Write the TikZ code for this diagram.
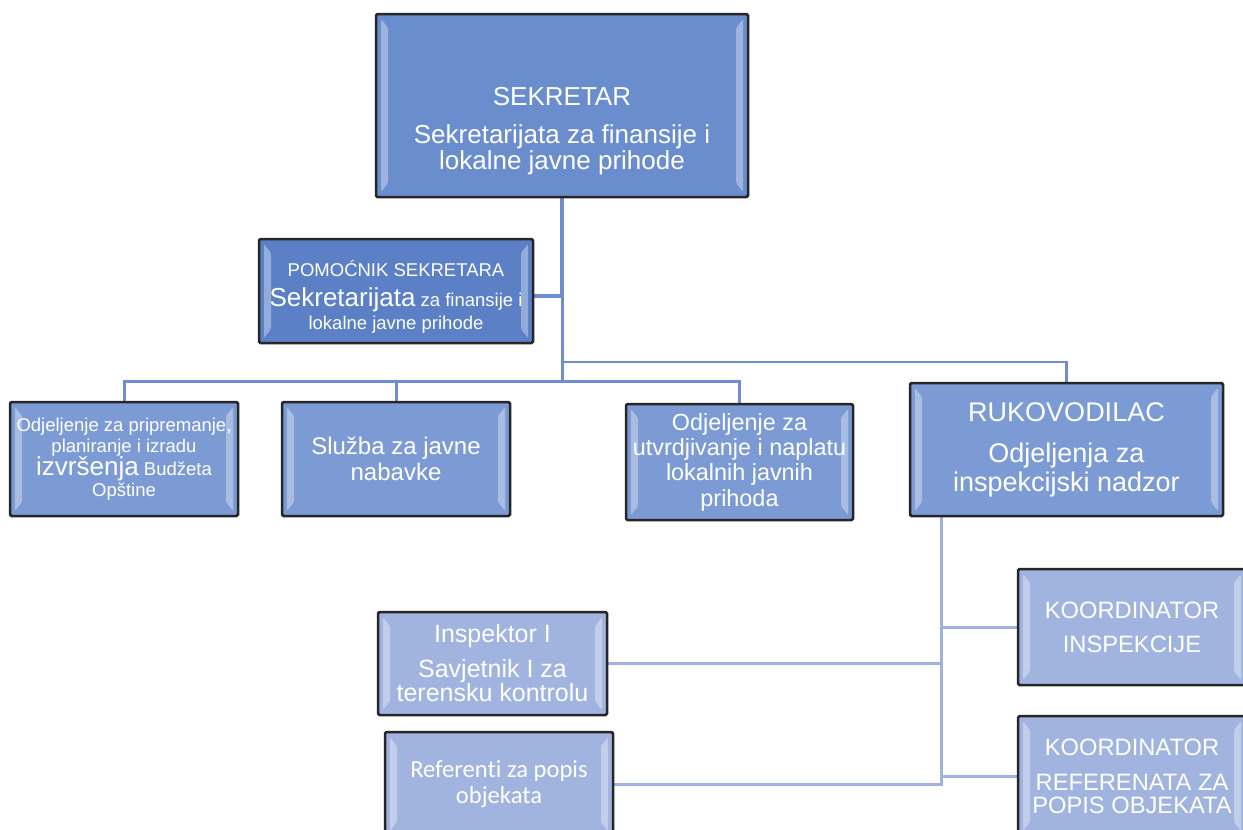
\documentclass[tikz,border=0pt]{standalone}
\usepackage{fontspec}
\setmainfont{Liberation Sans}
\newfontfamily\carlitofont[Ligatures=NoCommon]{Carlito}
\usetikzlibrary{positioning,calc,backgrounds}
\definecolor{headblue}{RGB}{106,141,206}
\definecolor{deputyblue}{RGB}{91,128,198}
\definecolor{unitblue}{RGB}{124,155,213}
\definecolor{staffblue}{RGB}{160,180,223}
\definecolor{lineblue}{RGB}{111,142,207}
\definecolor{paleblue}{RGB}{160,178,223}
\newcommand{\bxfont}[2]{\fontsize{#1}{#2}\selectfont\lineskiplimit=-50pt}
\tikzset{
block/.style = {draw=black!85, line width=2.5pt, rounded corners=1.5pt, text=white, align=center, inner sep=0pt,
  path picture={
    \fill[white, opacity=.35] ([xshift=5pt,yshift=-5pt]path picture bounding box.north west) -- ([xshift=12pt,yshift=-14pt]path picture bounding box.north west)
      -- ([xshift=12pt,yshift=14pt]path picture bounding box.south west) -- ([xshift=5pt,yshift=5pt]path picture bounding box.south west) -- cycle;
    \fill[white, opacity=.35] ([xshift=-5pt,yshift=-5pt]path picture bounding box.north east) -- ([xshift=-12pt,yshift=-14pt]path picture bounding box.north east)
      -- ([xshift=-12pt,yshift=14pt]path picture bounding box.south east) -- ([xshift=-5pt,yshift=5pt]path picture bounding box.south east) -- cycle;
  }},
head/.style = {block, fill=headblue},
deputy/.style = {block, fill=deputyblue},
unit/.style = {block, fill=unitblue},
staff/.style = {block, fill=staffblue},
link/.style = {draw=lineblue, line width=3pt},
thinlink/.style = {draw=paleblue, line width=3pt}
}

\begin{document}
\begin{tikzpicture}[x=1pt, y=-1pt]
		\useasboundingbox (0,0) rectangle (1243,830);
		\clip (0,0) rectangle (1243,830);

		\node [head, minimum width=372pt, minimum height=183pt, font=\bxfont{26}{26}] (sek) at (562,105.5)
			{\mbox{}\\[43.5pt]SEKRETAR\\[12pt]Sekretarijata za finansije i\\lokalne javne prihode};
		\node [deputy, minimum width=274pt, minimum height=104pt, font=\bxfont{18.5}{23}] (pom) at (396,291)
			{\rule{0pt}{27pt}POMOĆNIK SEKRETARA\\[7pt]{\bxfont{26}{23}Sekretarijata} za finansije i\\lokalne javne prihode};

		\node [unit, minimum width=228pt, minimum height=114pt, font=\bxfont{18.5}{21}] (odj1) at (124,459)
			{Odjeljenje za pripremanje,\\planiranje i izradu\\[2pt]{\bxfont{26}{21}izvršenja} Budžeta\\Opštine};
		\node [unit, minimum width=228pt, minimum height=114pt, font=\bxfont{24}{26}] (sluz) at (396,459)
			{Služba za javne\\nabavke};
		\node [unit, minimum width=227pt, minimum height=116pt, font=\bxfont{23.4}{25.3}] (odj2) at (739.5,462)
			{Odjeljenje za\\utvrdjivanje i naplatu\\lokalnih javnih\\prihoda};
		\node [unit, minimum width=313pt, minimum height=133pt, font=\bxfont{27}{29}] (ruk) at (1066.5,449.5)
			{RUKOVODILAC\\[12pt]Odjeljenja za\\inspekcijski nadzor};

		\node [staff, minimum width=229pt, minimum height=103pt, font=\bxfont{25}{24}] (insp) at (492.5,663.5)
			{Inspektor I\\[11pt]Savjetnik I za\\terensku kontrolu};
		\node [staff, minimum width=228pt, minimum height=104pt, font=\carlitofont\bxfont{24.6}{26}] (ref) at (499,784)
			{Referenti za popis\\objekata};
		\node [staff, minimum width=228pt, minimum height=116pt, font=\bxfont{23.7}{34}] (koord1) at (1132,627)
			{KOORDINATOR\\INSPEKCIJE};
		\node [staff, minimum width=228pt, minimum height=120pt, font=\bxfont{23.7}{22.5}] (koord2) at (1132,776)
			{KOORDINATOR\\[13pt]REFERENATA ZA\\POPIS OBJEKATA};

		\coordinate (deputyjoin) at (562,296);
		\coordinate (splitL) at (562,381);
		\coordinate (splitR) at (562,362);
		\coordinate (spine) at ($(ruk.south west)+(33,0)$);

		\begin{scope}[on background layer]
		\draw [link, line width=4.5pt] (sek.south) -- (deputyjoin) -- (deputyjoin -| pom.east);
		\draw [link] (deputyjoin) -- (splitL);
		\draw [link] (splitL) -| (odj1.north);
		\draw [link] (splitL) -| (sluz.north);
		\draw [link] (splitL) -| (odj2.north);
		\draw [link, line width=2.5pt] (splitR) -| (ruk.north);

		\draw [thinlink] (spine) |- (ref.east);
		\draw [thinlink] (spine |- insp.east) -- (insp.east);
		\draw [thinlink] (spine |- koord1.west) -- (koord1.west);
		\draw [thinlink] (spine |- koord2.west) -- (koord2.west);
		\end{scope}
\end{tikzpicture}
\end{document}
